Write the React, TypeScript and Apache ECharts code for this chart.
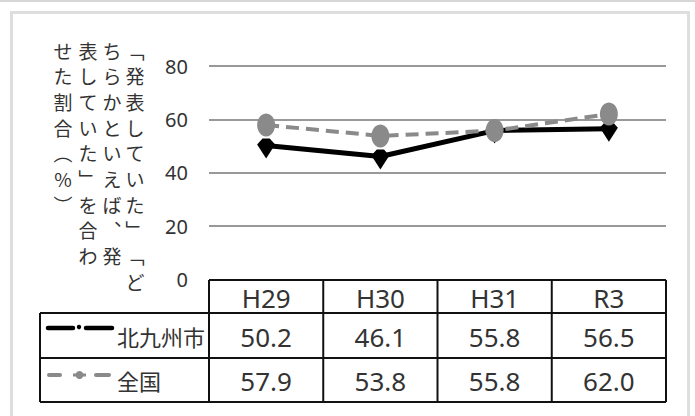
import React, { useEffect, useRef } from 'react';
import * as echarts from 'echarts';

const categories = ['H29', 'H30', 'H31', 'R3'];
const cityName = '北九州市';
const nationName = '全国';
const cityValues = [50.2, 46.1, 55.8, 56.5];
const nationValues = [57.9, 53.8, 55.8, 62.0];
const yMin = 0;
const yMax = 80;
const yInterval = 20;
const yTitleColumns = ['「発表していた」「ど', 'ちらかといえば、発', '表していた」を合わ', 'せた割合（%）'];

const W = 695;
const H = 416;
const GL = 209;
const GR = 666;
const GTOP = 66;
const G0 = 279.5;
const TL = 40;
const ROW_LINES = [280, 313, 358, 402];
const TITLE_TOP = 50;
const TITLE_PITCH = 25.7;
const TITLE_COL_X = [135, 112, 88, 63];

const VERT: Record<string, string> = { '「': '\uFE41', '」': '\uFE42', '（': '\uFE35', '）': '\uFE36', '、': '\uFE11' };

const TXT = '#333';
const GRAY = '#8a8a8a';
const NUM_FONT = '"Noto Sans", "Liberation Sans", sans-serif';
const CJK_FONT = '"Noto Sans CJK JP", "Noto Sans", sans-serif';

export default function App() {
  const ref = useRef<HTMLDivElement>(null);
  useEffect(() => {
    if (!ref.current) return;
    const chart = echarts.init(ref.current, undefined, { renderer: 'svg' });
    const cw = (GR - GL) / categories.length;
    const graphics: any[] = [];

    // outer frame
    graphics.push({ type: 'rect', shape: { x: 0, y: 0, width: W, height: 2 }, style: { fill: '#d6d6d6' }, silent: true });
    graphics.push({ type: 'rect', shape: { x: 11.5, y: 12.5, width: 677, height: 420 }, style: { fill: 'none', stroke: '#dedede', lineWidth: 3 }, silent: true });

    // y-axis title (vertical writing, one text per column)
    yTitleColumns.forEach((col, ci) => {
      const vertical = Array.from(col).map((ch) => VERT[ch] || ch).join('\n');
      graphics.push({
        type: 'text',
        x: TITLE_COL_X[ci],
        y: TITLE_TOP - TITLE_PITCH / 2,
        style: { text: vertical, font: `19px ${CJK_FONT}`, fill: TXT, align: 'center', verticalAlign: 'top', lineHeight: TITLE_PITCH },
        silent: true,
      });
    });

    // table lines
    const lineStyle = { stroke: '#111', lineWidth: 2 };
    graphics.push({ type: 'line', shape: { x1: GL, y1: ROW_LINES[0], x2: GR, y2: ROW_LINES[0] }, style: lineStyle });
    for (let r = 1; r < ROW_LINES.length; r++) {
      graphics.push({ type: 'line', shape: { x1: TL, y1: ROW_LINES[r], x2: GR, y2: ROW_LINES[r] }, style: lineStyle });
    }
    graphics.push({ type: 'line', shape: { x1: TL, y1: ROW_LINES[1], x2: TL, y2: ROW_LINES[3] }, style: lineStyle });
    for (let c = 0; c <= categories.length; c++) {
      const x = GL + c * cw;
      graphics.push({ type: 'line', shape: { x1: x, y1: ROW_LINES[0], x2: x, y2: ROW_LINES[3] }, style: lineStyle });
    }

    // header texts & values
    const rowValues = [cityValues, nationValues];
    categories.forEach((cat, i) => {
      const cx = GL + (i + 0.5) * cw;
      graphics.push({ type: 'text', x: cx, y: (ROW_LINES[0] + ROW_LINES[1]) / 2 + 1, style: { text: cat, font: `26px ${NUM_FONT}`, fill: TXT, align: 'center', verticalAlign: 'middle' } });
      rowValues.forEach((vals, r) => {
        graphics.push({ type: 'text', x: cx, y: (ROW_LINES[r + 1] + ROW_LINES[r + 2]) / 2 + 1, style: { text: vals[i].toFixed(1), font: `26px ${NUM_FONT}`, fill: TXT, align: 'center', verticalAlign: 'middle' } });
      });
    });

    // legend keys in table
    const y1 = 328;
    graphics.push({ type: 'line', shape: { x1: 48, y1, x2: 73, y2: y1 }, style: { stroke: '#000', lineWidth: 4.5, lineCap: 'round' } });
    graphics.push({ type: 'line', shape: { x1: 86, y1, x2: 112, y2: y1 }, style: { stroke: '#000', lineWidth: 4.5, lineCap: 'round' } });
    graphics.push({ type: 'circle', shape: { cx: 79, cy: y1 - 1, r: 2.2 }, style: { fill: '#000' } });
    graphics.push({ type: 'text', x: 117, y: 336, style: { text: cityName, font: `22px ${CJK_FONT}`, fill: TXT, align: 'left', verticalAlign: 'middle' } });
    const y2 = 375;
    graphics.push({ type: 'line', shape: { x1: 49, y1: y2, x2: 60, y2 }, style: { stroke: GRAY, lineWidth: 4, lineCap: 'round' } });
    graphics.push({ type: 'line', shape: { x1: 96, y1: y2, x2: 109, y2 }, style: { stroke: GRAY, lineWidth: 4, lineCap: 'round' } });
    graphics.push({ type: 'line', shape: { x1: 73, y1: y2, x2: 86, y2 }, style: { stroke: GRAY, lineWidth: 3 } });
    graphics.push({ type: 'circle', shape: { cx: 79.5, cy: y2, r: 4 }, style: { fill: GRAY } });
    graphics.push({ type: 'text', x: 117, y: 380, style: { text: nationName, font: `22px ${CJK_FONT}`, fill: TXT, align: 'left', verticalAlign: 'middle' } });

    chart.setOption({
      animation: false,
      backgroundColor: '#fff',
      grid: { left: GL, right: W - GR, top: GTOP, bottom: H - G0, containLabel: false },
      xAxis: {
        type: 'category',
        data: categories,
        boundaryGap: true,
        axisLine: { show: false },
        axisTick: { show: false },
        axisLabel: { show: false },
      },
      yAxis: {
        type: 'value',
        min: yMin,
        max: yMax,
        interval: yInterval,
        axisLine: { show: false },
        axisTick: { show: false },
        axisLabel: { color: TXT, fontSize: 20, fontFamily: NUM_FONT, margin: 21 },
        splitLine: { show: true, showMinLine: false, lineStyle: { color: '#999', width: 2 } },
      },
      series: [
        {
          name: cityName,
          type: 'line',
          data: cityValues,
          symbol: 'path://M0,6 L6,0 L14,0 L20,6 L10,20 Z',
          symbolSize: [18, 20],
          symbolOffset: [0, 3],
          showAllSymbol: true,
          lineStyle: { color: '#000', width: 5 },
          itemStyle: { color: '#000' },
          z: 3,
        },
        {
          name: nationName,
          type: 'line',
          data: nationValues,
          symbol: 'circle',
          symbolSize: [18, 23],
          showAllSymbol: true,
          lineStyle: { color: GRAY, width: 4, type: [13, 7] },
          itemStyle: { color: GRAY },
          z: 4,
        },
      ],
      graphic: { elements: graphics },
    });
    return () => chart.dispose();
  }, []);
  return <div ref={ref} style={{ position: 'fixed', left: 0, top: 0, width: W, height: H }} />;
}
